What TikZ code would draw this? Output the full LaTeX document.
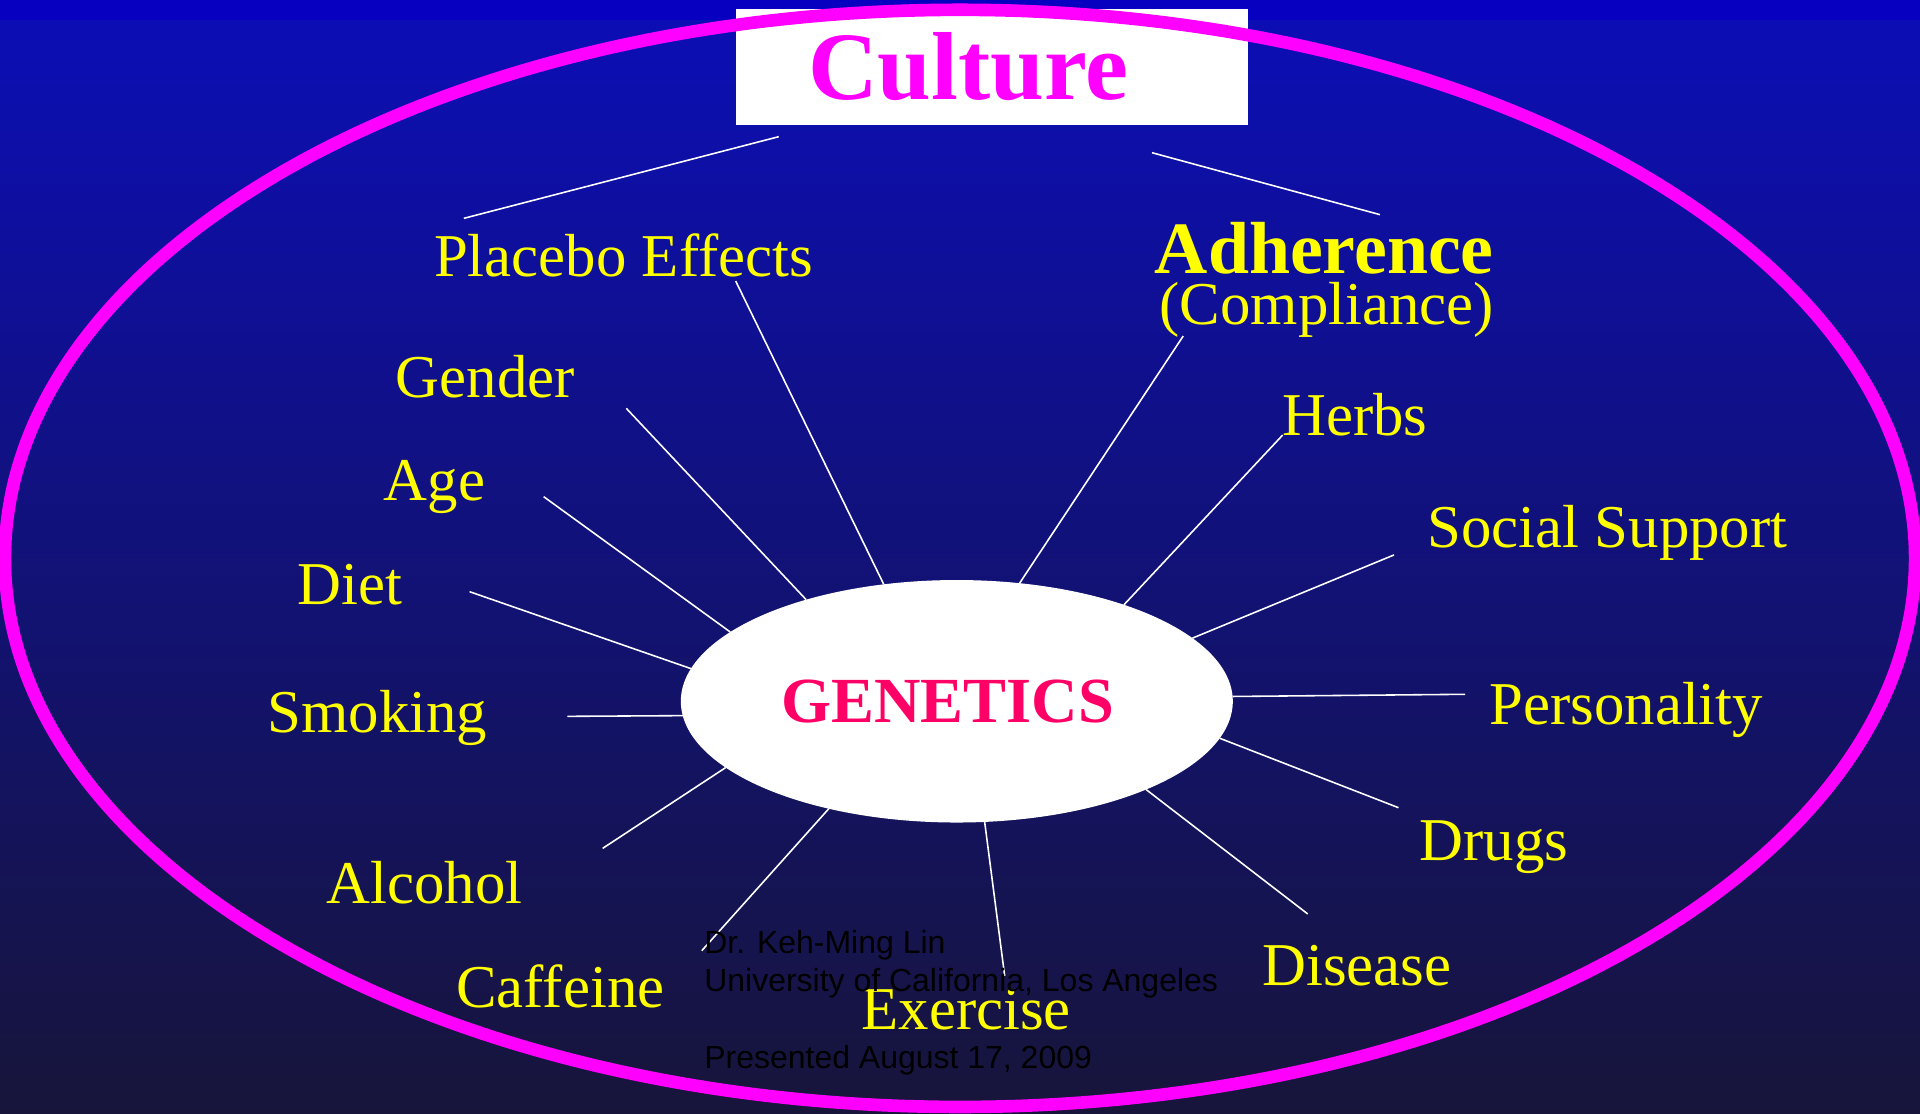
\documentclass[tikz,border=0pt]{standalone}
\usepackage{fontspec}
\setmainfont{Liberation Serif}
\setsansfont{Liberation Sans}
\usetikzlibrary{shapes.geometric}
\definecolor{bgtop}{RGB}{12,14,183}
\definecolor{bgband}{RGB}{8,0,192}
\definecolor{bgbottom}{RGB}{23,21,58}
\definecolor{ringmag}{RGB}{255,0,255}
\definecolor{genred}{RGB}{255,0,102}
\definecolor{labyellow}{RGB}{255,255,0}

\begin{document}
\begin{tikzpicture}[x=0.12245mm, y=-0.12245mm,
    factor/.style={anchor=base west, inner sep=0pt, text=labyellow, font=\fontsize{17.3}{20}\selectfont},
    spoke/.style={draw=white, line width=0.45pt},
    genell/.style={ellipse, fill=white, minimum width=55.2mm, minimum height=24.25mm, inner sep=0pt, outer sep=0pt, text=genred, font=\bfseries\fontsize{18.3}{20}\selectfont},
    cultbox/.style={fill=white, minimum width=51.2mm, minimum height=11.6mm, inner sep=0pt, text=ringmag, font=\bfseries\fontsize{27.5}{30}\selectfont}
  ]
  \useasboundingbox (0,0) rectangle (1568,909);
  \shade[top color=bgtop, bottom color=bgbottom] (0,0) rectangle (1568,909);
  \fill[bgband] (0,0) rectangle (1568,16);

  \node[cultbox] (culture) at (810,54.5) {Culture\rule{4.7mm}{0pt}};
  \draw[ringmag, line width=3.6pt] (784,456) ellipse [x radius=780, y radius=448];

  % factors round the centre
  \node[factor] (placebo) at (354,225.4) {Placebo Effects};
  \node[factor] (gender) at (322.6,325) {Gender};
  \node[factor] (age) at (313,409) {Age};
  \node[factor] (diet) at (242.6,493.5) {Diet};
  \node[factor] (smoking) at (218,598.6) {Smoking};
  \node[factor] (alcohol) at (266,738) {Alcohol};
  \node[factor] (caffeine) at (372,822.6) {Caffeine};
  \node[factor] (exercise) at (703,840.6) {Exercise};
  \node[factor] (disease) at (1030.4,804.5) {Disease};
  \node[factor] (drugs) at (1158.8,702.4) {Drugs};
  \node[factor] (personality) at (1215.9,591.3) {Personality};
  \node[factor] (social) at (1165.3,447.3) {Social Support};
  \node[factor] (herbs) at (1046.6,355.3) {Herbs};
  \node[factor, font=\bfseries\fontsize{21}{24}\selectfont] (adherence) at (942.5,223) {Adherence};
  \node[factor] (compliance) at (946.5,265.4) {(Compliance)};

  % free ends of the spokes
  \coordinate (cult-l) at (636,111.6);
  \coordinate (cult-r) at (940.8,124.7);
  \coordinate (placebo-top) at (378.8,178.3);
  \coordinate (adherence-top) at (1127,175.3);
  \coordinate (placebo-end) at (600.8,229.5);
  \coordinate (gender-end) at (511.5,333.5);
  \coordinate (age-end) at (444,405.6);
  \coordinate (diet-end) at (383.5,483.2);
  \coordinate (smoking-end) at (463.4,585);
  \coordinate (alcohol-end) at (492.2,692.8);
  \coordinate (caffeine-end) at (573.1,776.4);
  \coordinate (exercise-end) at (820.5,797);
  \coordinate (disease-end) at (1068,746.4);
  \coordinate (drugs-end) at (1142.1,659.6);
  \coordinate (personality-end) at (1196.6,567);
  \coordinate (social-end) at (1138.4,453.2);
  \coordinate (herbs-end) at (1047.5,355.3);
  \coordinate (adherence-end) at (966.3,274.4);

  \draw[spoke] (cult-l) -- (placebo-top);
  \draw[spoke] (cult-r) -- (adherence-top);

  \node[genell] (gen) at (781.4,572.7) {GENETICS\rule{1.8mm}{0pt}};

  \draw[spoke] (gen.122.5) -- (placebo-end);
  \draw[spoke] (gen.146.9) -- (gender-end);
  \draw[spoke] (gen.163.7) -- (age-end);
  \draw[spoke] (gen.173.5) -- (diet-end);
  \draw[spoke] (gen.183.1) -- (smoking-end);
  \draw[spoke] (gen.196.9) -- (alcohol-end);
  \draw[spoke] (gen.220.5) -- (caffeine-end);
  \draw[spoke] (gen.283.5) -- (exercise-end);
  \draw[spoke] (gen.335.1) -- (disease-end);
  \draw[spoke] (gen.352.8) -- (drugs-end);
  \draw[spoke] (gen.1.4) -- (personality-end);
  \draw[spoke] (gen.15.1) -- (social-end);
  \draw[spoke] (gen.30.0) -- (herbs-end);
  \draw[spoke] (gen.62.2) -- (adherence-end);

  \node[anchor=north west, inner sep=0pt, align=left, font=\sffamily\fontsize{9.1}{10.94}\selectfont] (author) at (574.6,758.9)
    {Dr. Keh-Ming Lin\\University of California, Los Angeles\\[10.94pt]Presented August 17, 2009};
\end{tikzpicture}
\end{document}
